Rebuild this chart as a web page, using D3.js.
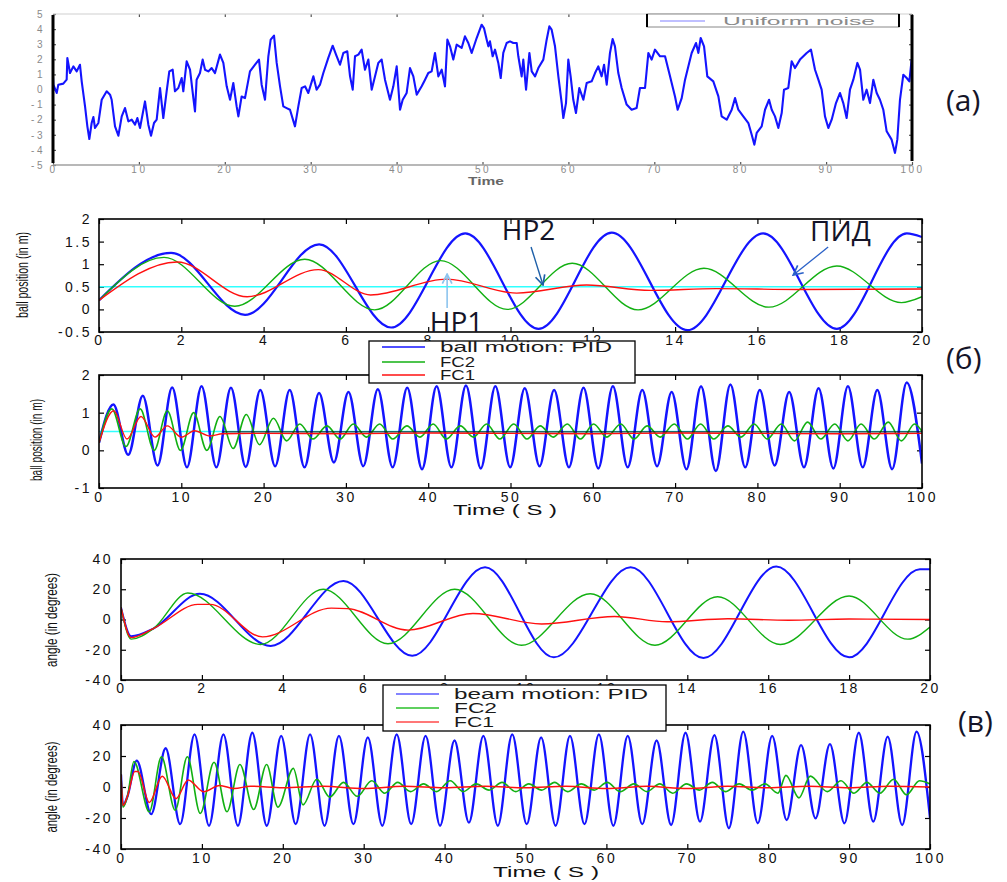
<!DOCTYPE html>
<html>
<head>
<meta charset="utf-8">
<script src="https://cdn.jsdelivr.net/npm/d3@7"></script>
<style>
  body { margin: 0; background: #fff; }
</style>
</head>
<body>
<script>
// ---- (а) uniform noise ----
let noise = [
  [0,0.8],[0.04,0.32],[0.43,-0.23],[0.62,0.32],[1.2,0.39],[1.59,0.65],[1.67,2.09],[1.98,1.09],[2.37,1.53],[2.76,1.2],
  [3.14,1.64],[3.34,0.54],[3.73,-1.12],[4.0,-2.44],[4.23,-3.28],[4.5,-2.22],[4.7,-1.82],[4.89,-2.55],[5.28,-2.22],[5.67,-0.68],
  [6.25,-0.12],[6.64,-0.34],[6.83,-0.68],[7.22,-2.44],[7.61,-3.06],[8.0,-1.78],[8.38,-1.23],[8.77,-2.11],[9.16,-2.0],[9.55,-2.33],
  [9.82,-1.89],[10.13,-2.55],[10.71,-0.79],[11.1,-2.33],[11.41,-3.06],[11.76,-2.22],[12.07,-2.0],[12.46,0.1],[12.84,-1.89],[13.23,-0.12],
  [13.54,1.2],[13.93,1.31],[14.2,-0.12],[14.59,0.1],[14.98,0.76],[15.17,-0.12],[15.56,1.87],[15.95,1.31],[16.34,-0.57],[16.53,-1.45],
  [16.72,0.65],[17.11,1.09],[17.42,1.98],[17.7,1.31],[18.08,1.2],[18.47,1.42],[18.86,1.09],[19.44,2.31],[19.83,1.76],[20.22,0.21],
  [20.61,-0.68],[20.99,0.43],[21.38,-1.12],[21.58,-1.78],[21.96,-0.46],[22.35,-0.57],[22.93,1.2],[23.52,1.64],[23.98,1.98],[24.29,0.32],
  [24.68,-0.68],[25.07,2.2],[25.34,3.3],[25.73,3.57],[26.04,1.76],[26.43,0.21],[26.81,-1.12],[27.2,-1.23],[27.59,-1.34],[28.17,-2.44],
  [28.56,-1.12],[28.95,0.1],[29.34,0.21],[29.72,-0.23],[30.31,0.87],[30.69,-0.01],[31.08,0.32],[31.47,1.09],[32.05,2.09],[32.56,2.9],
  [32.95,2.31],[33.41,1.64],[33.8,2.42],[34.26,2.53],[34.58,0.87],[34.89,-0.01],[35.16,2.2],[35.55,2.31],[35.93,2.64],[36.32,1.31],
  [36.71,1.98],[37.1,-0.01],[37.49,0.87],[37.87,1.76],[38.26,1.98],[38.65,0.65],[39.23,-0.68],[39.62,0.21],[40.01,1.53],[40.4,-1.34],
  [40.71,-0.68],[41.17,-0.23],[41.56,1.42],[41.95,0.87],[42.34,-0.34],[42.92,0.21],[43.31,0.65],[43.69,1.09],[44.08,1.2],[44.47,2.42],
  [44.86,0.87],[45.25,1.31],[45.63,0.21],[45.91,3.3],[46.22,2.86],[46.6,1.98],[46.99,2.97],[47.57,2.75],[47.96,3.52],[48.35,3.08],
  [48.74,2.42],[49.32,3.41],[49.9,4.29],[50.17,4.07],[50.49,3.3],[50.68,2.86],[50.87,3.19],[51.18,2.2],[51.46,2.64],[51.84,1.76],
  [52.12,0.76],[52.42,2.42],[52.81,3.08],[53.2,3.19],[53.59,3.08],[53.98,3.08],[54.17,2.2],[54.56,0.87],[54.75,1.98],[55.07,-0.01],
  [55.46,2.42],[55.73,1.2],[56.12,0.87],[56.5,1.42],[57.08,1.98],[57.47,3.3],[57.78,4.18],[58.05,3.96],[58.44,2.86],[58.83,0.87],
  [59.22,-0.9],[59.41,-1.89],[59.72,-0.9],[59.99,1.98],[60.26,0.87],[60.57,-0.68],[60.88,-1.56],[61.27,0.1],[61.74,-0.68],[62.13,0.43],
  [62.71,0.54],[63.1,1.09],[63.48,1.53],[63.87,0.87],[64.15,1.64],[64.46,0.32],[64.84,2.42],[65.15,3.34],[65.42,2.86],[65.81,1.09],
  [66.2,0.1],[66.78,-1.0],[67.36,-1.34],[67.94,-1.23],[68.33,0.1],[68.92,0.1],[69.31,2.42],[69.69,1.98],[70.08,2.64],[70.67,2.2],
  [71.25,2.2],[71.83,0.87],[72.41,-0.46],[72.72,-1.34],[73.19,-0.57],[73.58,0.65],[73.96,1.53],[74.35,2.42],[74.86,3.08],[75.13,2.42],
  [75.4,3.41],[75.79,2.86],[76.17,0.87],[76.87,0.54],[77.46,-0.46],[77.84,-1.78],[78.43,-2.0],[79.01,-1.34],[79.4,-0.57],[79.78,-1.34],
  [80.36,-1.78],[80.95,-2.22],[81.34,-3.0],[81.65,-3.65],[81.92,-2.88],[82.5,-2.44],[82.89,-1.34],[83.36,-0.68],[83.67,-1.34],[84.05,-1.78],
  [84.44,-2.55],[84.83,-1.56],[85.1,-0.01],[85.6,0.1],[85.99,1.87],[86.38,1.42],[86.96,1.98],[87.74,2.42],[88.24,2.64],[88.71,1.31],
  [89.1,0.65],[89.48,-0.01],[89.87,-1.78],[90.26,-2.55],[90.65,-2.0],[91.15,-0.9],[91.62,-0.23],[92.0,-0.9],[92.39,-1.89],[92.78,-0.01],
  [93.17,0.65],[93.64,1.76],[93.95,1.31],[94.33,-0.68],[94.72,-0.01],[95.11,-0.9],[95.5,0.65],[95.89,-0.23],[96.27,-0.68],[96.66,-1.34],
  [97.05,-2.77],[97.63,-3.32],[98.02,-4.2],[98.29,-3.32],[98.6,-0.68],[98.99,0.98],[99.38,0.76],[99.69,0.54],[99.96,1.98]
]

// ---- (б) ball position, 0..20 s (turning points) ----
let ballPid20 = [[0,0.2],[1.75,1.25],[3.55,-0.12],[5.35,1.44],[7.1,-0.4],[8.9,1.68],[10.68,-0.43],[12.46,1.7],[14.3,-0.46],[16.14,1.68],[17.93,-0.43],[19.63,1.68],[20,1.6]]
let ballFc2_20 = [[0,0.2],[1.58,1.15],[3.3,0.07],[5.0,1.11],[6.7,-0.01],[8.3,1.08],[9.92,0.0],[11.5,1.02],[13.1,-0.01],[14.7,0.91],[16.28,0.05],[17.93,0.96],[19.5,0.15],[20,0.28]]
let ballFc1_20 = [[0,0.2],[1.9,1.05],[3.6,0.28],[5.33,0.88],[6.6,0.32],[8.45,0.67],[10.15,0.36],[11.85,0.54],[13.4,0.42],[15,0.46],[17,0.44],[20,0.45]]
let ballRef = [[0,0.5],[20,0.5]]

// ---- (б) ball position, 0..100 s ----
let ballPid100 = [[0,0.2],[1.75,1.22],[3.55,-0.12],[5.32,1.45],[7.12,-0.4],[8.89,1.67],[10.69,-0.45],[12.46,1.7],[14.26,-0.45],
  [16.03,1.66],[17.83,-0.44],[19.6,1.6],[21.4,-0.42],[23.17,1.6],[24.97,-0.45],[26.74,1.52],[28.54,-0.32],[30.31,1.55],[32.11,-0.42],
  [33.88,1.62],[35.68,-0.45],[37.45,1.66],[39.25,-0.5],[41.02,1.7],[42.82,-0.45],[44.59,1.72],[46.39,-0.48],[48.16,1.7],[49.96,-0.45],
  [51.73,1.65],[53.53,-0.42],[55.3,1.6],[57.1,-0.45],[58.87,1.66],[60.67,-0.48],[62.44,1.7],[64.24,-0.45],[66.01,1.6],[67.81,-0.42],
  [69.58,1.55],[71.38,-0.5],[73.15,1.7],[74.95,-0.55],[76.72,1.75],[78.52,-0.45],[80.29,1.6],[82.09,-0.4],[83.86,1.55],[85.66,-0.45],
  [87.43,1.65],[89.23,-0.48],[91.0,1.7],[92.8,-0.45],[94.57,1.6],[96.37,-0.5],[98.14,1.8],[100,-0.35]]
let ballFc2_100 = [[0,0.2],[1.56,1.1],[3.27,0.1],[5.0,1.1],[6.7,0.0],[8.3,1.05],[9.9,0.0],[11.5,1.0],[13.1,0.0],[14.7,0.9],[16.3,0.05],
  [17.9,0.95],[19.5,0.15],[21.2,0.85],[22.8,0.25],[24.4,0.7],[26.0,0.3],[27.7,0.65],[29.3,0.3],[30.9,0.7],[32.5,0.35],[34.1,0.7],
  [35.7,0.3],[37.4,0.65],[39.0,0.35],[40.6,0.7],[42.2,0.3],[43.9,0.65],[45.5,0.35],[47.1,0.7],[48.7,0.3],[50.4,0.7],[52.0,0.3],
  [53.6,0.65],[55.2,0.35],[56.9,0.7],[58.5,0.3],[60.1,0.7],[61.7,0.35],[63.4,0.7],[65.0,0.3],[66.6,0.65],[68.2,0.35],[69.9,0.7],
  [71.5,0.3],[73.1,0.7],[74.7,0.3],[76.4,0.65],[78.0,0.35],[79.6,0.7],[81.2,0.3],[82.9,0.7],[84.5,0.25],[86.1,0.75],[87.7,0.3],
  [89.4,0.7],[91.0,0.25],[92.6,0.7],[94.2,0.3],[95.9,0.75],[97.5,0.25],[99.1,0.7],[100,0.5]]
let ballFc1_100 = [[0,0.2],[1.8,1.05],[3.4,0.3],[5.1,0.9],[6.8,0.35],[8.3,0.65],[10.0,0.35],[11.6,0.52],[13.5,0.38],[15,0.44],
  [20,0.45],[30,0.44],[40,0.46],[50,0.45],[60,0.44],[70,0.46],[80,0.45],[90,0.44],[100,0.45]]
let ballRef100 = [[0,0.5],[100,0.5]]
let ballBlack100 = [[15,0.49],[100,0.49]]

// ---- (в) beam angle, 0..20 s ----
let beamPid20 = [[0,8],[0.25,-11],[0.8,-6],[1.95,17],[3.7,-17.5],[5.5,25.5],[7.2,-24],[9.0,34.5],[10.7,-25],[12.6,34.5],[14.4,-25.5],[16.2,35],[18.0,-25],[19.75,33.2],[20,33.2]]
let beamFc2_20 = [[0,8],[0.25,-13],[0.8,-6],[1.65,17.5],[3.45,-16.5],[5.0,20],[6.6,-16],[8.25,20],[9.9,-17],[11.6,17],[13.2,-17],[14.75,15],[16.3,-16.5],[18.0,15.5],[19.45,-13],[20,-5]]
let beamFc1_20 = [[0,8],[0.25,-12],[0.8,-6],[1.9,10],[2.2,10],[3.5,-11.5],[5.2,7.5],[5.6,7.2],[7.1,-7],[8.7,4],[10.4,-3],[12.2,2],[13.5,-1.5],[15,0.5],[16.5,-0.5],[18,0.3],[20,0]]

// ---- (в) beam angle, 0..100 s ----
let beamPid100 = [[0,8],[0.25,-12],[0.8,-6],[1.95,17],[3.74,-17.5],[5.52,25],[7.31,-24],[9.09,34],[10.88,-25],[12.66,34],[14.45,-25],
  [16.23,35],[18.02,-25],[19.8,33],[21.59,-24],[23.37,34],[25.16,-25],[26.94,33],[28.73,-24],[30.51,32],[32.3,-25],[34.08,34],
  [35.87,-24],[37.65,33],[39.44,-25],[41.22,30],[43.01,-23],[44.79,33],[46.58,-25],[48.36,34],[50.15,-24],[51.93,32],[53.72,-25],
  [55.5,33],[57.29,-24],[59.07,34],[60.86,-25],[62.64,33],[64.43,-24],[66.21,30],[68.0,-24.5],[69.78,35],[71.57,-22.4],[73.35,33.5],
  [75.14,-26.6],[76.92,35.7],[78.71,-23.4],[80.49,33],[82.28,-21.3],[84.06,27],[85.85,-20.2],[87.63,27.7],[89.42,-23.4],[91.2,35],
  [92.99,-22.4],[94.77,32.5],[96.56,-24.5],[98.34,35.7],[100,-20]]
let beamFc2_100 = [[0,8],[0.25,-13],[0.8,-6],[1.6,16.5],[3.5,-16],[5.0,19.5],[6.7,-15],[8.2,19.5],[9.8,-17],[11.5,16],[13.1,-16],
  [14.7,14.5],[16.4,-14.5],[18.0,14.5],[19.4,-13],[21.3,12],[22.5,-11.5],[24.2,5],[25.8,-6.5],[27.5,3],[29.2,-6],[31,4],[32.6,-4],
  [34.2,3],[35.8,-3],[37.4,2],[39,-3],[40.7,4],[42.3,-3],[43.9,2],[45.5,-2],[47.1,3],[48.8,-3],[50.4,2],[52,-2],[53.6,3],
  [55.2,-3],[56.9,2],[58.5,-2],[60.1,3],[61.7,-3],[63.4,2],[65,-3],[66.6,2],[68.2,-4],[69.9,2],[71.5,-2],[73.1,3],[74.7,-3],
  [76.4,2],[78,-2],[79.6,2],[81.2,-4],[82.2,7.5],[83.8,-7],[85.2,7],[87.3,-3],[89,4],[90.6,-4],[92.2,3],[93.8,-4],[95.5,5],
  [97.1,-5],[98.7,4],[100,2]]
let beamFc1_100 = [[0,8],[0.25,-12],[0.8,-6],[1.7,10],[2.1,10],[3.5,-10],[5.1,7],[6.8,-7.5],[8.3,4.5],[10.2,-3],[12.2,1],[14,-1],
  [16,0.5],[20,-0.5],[25,0.5],[30,-1],[35,0.5],[40,-0.5],[45,0.5],[50,-0.5],[55,0.5],[60,-1],[65,0.5],[70,-1],[75,0.5],
  [80,-0.5],[85,0.5],[90,-0.5],[95,0.5],[100,0]]

// ticks and labels
let ticks0to100 = [0,10,20,30,40,50,60,70,80,90,100]
let ticks0to20 = [0,2,4,6,8,10,12,14,16,18,20]
let noiseTicksY = [-5,-4,-3,-2,-1,0,1,2,3,4,5]
let ballTicks20 = [-0.5,0,0.5,1,1.5,2]
let ballTicks100 = [-1,0,1,2]
let angleTicks = [-40,-20,0,20,40]
let ballLegend = ['ball motion: PID','FC2','FC1']
let beamLegend = ['beam motion: PID','FC2','FC1']

const BLUE = '#1414ff', GREEN = '#12b012', RED = '#ff1010', CYAN = '#30ffff'

let svg = d3.select('body').append('svg')
    .attr('width', 1007).attr('height', 882)
    .style('background', '#fff')

let defs = svg.append('defs')
let clipCount = 0

// one MATLAB-style box with inward ticks
function panel(p) {
  let w = p.right - p.left, h = p.bottom - p.top
  let g = svg.append('g').attr('transform', 'translate(' + p.left + ',' + p.top + ')')
  let x = d3.scaleLinear().domain(p.xDomain).range([0, w])
  let y = d3.scaleLinear().domain(p.yDomain).range([h, 0])
  let id = 'clip' + (clipCount++)
  defs.append('clipPath').attr('id', id).append('rect').attr('width', w).attr('height', h)

  let styleText = sel => {
    sel.select('.domain').remove()
    sel.selectAll('line').attr('stroke', p.tickColor || '#000').attr('stroke-width', 1.2)
    sel.selectAll('text')
      .attr('font-family', 'Liberation Sans, Arial, sans-serif')
      .attr('font-size', p.fontSize).attr('fill', p.textColor || '#111')
      .attr('letter-spacing', p.ls)
  }
  let fmt = d => String(d)
  g.append('g').attr('transform', 'translate(0,' + h + ')')
    .call(d3.axisBottom(x).tickValues(p.xTicks).tickSize(-p.tick).tickPadding(p.xPad).tickFormat(fmt))
    .call(styleText)
  g.append('g')
    .call(d3.axisTop(x).tickValues(p.xTicks).tickSize(-p.tick).tickFormat(''))
    .call(styleText)
  g.append('g')
    .call(d3.axisLeft(y).tickValues(p.yTicks).tickSize(-p.tick).tickPadding(p.yPad).tickFormat(fmt))
    .call(styleText)
  g.append('g').attr('transform', 'translate(' + w + ',0)')
    .call(d3.axisRight(y).tickValues(p.yTicks).tickSize(-p.tick).tickFormat(''))
    .call(styleText)

  let plot = g.append('g').attr('clip-path', 'url(#' + id + ')')
  return { g: g, x: x, y: y, w: w, h: h, plot: plot }
}

function frame(pn, width) {
  pn.g.append('rect').attr('width', pn.w).attr('height', pn.h)
    .attr('fill', 'none').attr('stroke', '#000').attr('stroke-width', width)
}

function addLine(pn, data, color, width, curve) {
  let line = d3.line().x(d => pn.x(d[0])).y(d => pn.y(d[1])).curve(curve || d3.curveMonotoneX)
  pn.plot.append('path').datum(data)
    .attr('d', line).attr('fill', 'none')
    .attr('stroke', color).attr('stroke-width', width)
    .attr('stroke-linejoin', 'round')
}

function yLabel(cx, cy, txt, len) {
  svg.append('text')
    .attr('transform', 'translate(' + cx + ',' + cy + ') rotate(-90)')
    .attr('text-anchor', 'middle')
    .attr('font-family', 'Liberation Sans, Arial, sans-serif')
    .attr('font-size', 17).attr('fill', '#111')
    .attr('textLength', len).attr('lengthAdjust', 'spacingAndGlyphs')
    .text(txt)
}

function legend(bx, by, bw, bh, labels, colors, rows, lens) {
  let g = svg.append('g')
  g.append('rect').attr('x', bx).attr('y', by).attr('width', bw).attr('height', bh)
    .attr('fill', '#fff').attr('stroke', '#000').attr('stroke-width', 1.3)
  labels.forEach((lab, i) => {
    g.append('line').attr('x1', bx + 13).attr('x2', bx + 56)
      .attr('y1', rows[i]).attr('y2', rows[i])
      .attr('stroke', colors[i]).attr('stroke-width', 1.5)
    g.append('text').attr('x', bx + 71).attr('y', rows[i] + 5)
      .attr('font-family', 'Liberation Sans, Arial, sans-serif')
      .attr('font-size', 14).attr('fill', '#1a1a1a')
      .attr('textLength', lens[i]).attr('lengthAdjust', 'spacingAndGlyphs')
      .text(lab)
  })
}

function bigLabel(x, y, txt, size) {
  svg.append('text').attr('x', x).attr('y', y)
    .attr('font-family', 'Open Sans, Noto Sans, sans-serif')
    .attr('font-size', size).attr('fill', '#141428')
    .text(txt)
}

// arrow head marker
function marker(id, color) {
  defs.append('marker').attr('id', id)
    .attr('viewBox', '0 0 10 10').attr('refX', 9).attr('refY', 5)
    .attr('markerWidth', 12).attr('markerHeight', 12).attr('markerUnits', 'userSpaceOnUse')
    .attr('orient', 'auto')
    .append('path').attr('d', 'M1,1 L9,5 L1,9').attr('fill', 'none')
    .attr('stroke', color).attr('stroke-width', 1.4)
}
marker('arDark', '#1d5fa8')
marker('arLight', '#8cc4ee')
marker('arBlue', '#2b62c8')

// ---------------- (а) ----------------
let pa = panel({ left: 53, top: 14, right: 912, bottom: 165, xDomain: [0, 100], yDomain: [-5, 5],
  xTicks: ticks0to100, yTicks: noiseTicksY, tick: 3, xPad: 1, yPad: 8,
  fontSize: 10, ls: 2.5, textColor: '#8a8a8a', tickColor: '#555' })
addLine(pa, noise, BLUE, 2.1, d3.curveLinear)
pa.g.append('line').attr('x1', 0).attr('x2', pa.w).attr('y1', 0).attr('y2', 0).attr('stroke', '#cfcfcf').attr('stroke-width', 1.2)
pa.g.append('line').attr('x1', 0).attr('x2', pa.w).attr('y1', pa.h).attr('y2', pa.h).attr('stroke', '#a0a0a0').attr('stroke-width', 1.5)
pa.g.append('line').attr('x1', 0).attr('x2', 0).attr('y1', 1).attr('y2', pa.h - 2).attr('stroke', '#000').attr('stroke-width', 3)
pa.g.append('line').attr('x1', pa.w).attr('x2', pa.w).attr('y1', 1).attr('y2', pa.h - 4).attr('stroke', '#000').attr('stroke-width', 3)
// legend of (а)
let la = svg.append('g')
la.append('rect').attr('x', 647).attr('y', 14).attr('width', 252).attr('height', 13)
  .attr('fill', '#fff').attr('stroke', '#888').attr('stroke-width', 1)
la.append('line').attr('x1', 647).attr('x2', 647).attr('y1', 14).attr('y2', 27).attr('stroke', '#000').attr('stroke-width', 2)
la.append('line').attr('x1', 899).attr('x2', 899).attr('y1', 14).attr('y2', 27).attr('stroke', '#000').attr('stroke-width', 2)
la.append('line').attr('x1', 660).attr('x2', 705).attr('y1', 21).attr('y2', 21).attr('stroke', '#8080ff').attr('stroke-width', 1.2)
la.append('text').attr('x', 723).attr('y', 25)
  .attr('font-family', 'Liberation Sans, Arial, sans-serif').attr('font-size', 11).attr('fill', '#8a8a8a')
  .attr('textLength', 152).attr('lengthAdjust', 'spacingAndGlyphs').text('Uniform noise')
svg.append('text').attr('x', 486).attr('y', 185).attr('text-anchor', 'middle')
  .attr('font-family', 'Liberation Sans, Arial, sans-serif').attr('font-size', 10).attr('font-weight', 'bold')
  .attr('fill', '#666').attr('textLength', 36).attr('lengthAdjust', 'spacingAndGlyphs').text('Time')

// ---------------- (б) top ----------------
let pb1 = panel({ left: 99, top: 219, right: 922, bottom: 332, xDomain: [0, 20], yDomain: [-0.5, 2],
  xTicks: ticks0to20, yTicks: ballTicks20, tick: 5, xPad: 3, yPad: 7, fontSize: 14, ls: 2.5 })
addLine(pb1, ballRef, CYAN, 1.6)
addLine(pb1, ballPid20, BLUE, 2.2)
addLine(pb1, ballFc2_20, GREEN, 1.4)
addLine(pb1, ballFc1_20, RED, 1.4)
frame(pb1, 1.6)
yLabel(28, 275, 'ball position (in m)', 86)

// annotations on (б) top, placed in data units
bigLabel(pb1.x(9.79) + 99, pb1.y(1.54) + 219, 'НР2', 28)
bigLabel(pb1.x(8.04) + 99, pb1.y(-0.5) + 219, 'НР1', 28)
bigLabel(pb1.x(17.28) + 99, pb1.y(1.51) + 219, 'ПИД', 28)
pb1.g.append('line').attr('x1', pb1.x(10.5)).attr('y1', pb1.y(1.38)).attr('x2', pb1.x(10.79)).attr('y2', pb1.y(0.54))
  .attr('stroke', '#1d5fa8').attr('stroke-width', 1.4).attr('marker-end', 'url(#arDark)')
pb1.g.append('line').attr('x1', pb1.x(8.46)).attr('y1', pb1.y(0.03)).attr('x2', pb1.x(8.46)).attr('y2', pb1.y(0.78))
  .attr('stroke', '#8cc4ee').attr('stroke-width', 1.6).attr('marker-end', 'url(#arLight)')
pb1.g.append('line').attr('x1', pb1.x(17.72)).attr('y1', pb1.y(1.38)).attr('x2', pb1.x(16.87)).attr('y2', pb1.y(0.76))
  .attr('stroke', '#2b62c8').attr('stroke-width', 1.3).attr('marker-end', 'url(#arBlue)')

// ---------------- (б) bottom ----------------
let pb2 = panel({ left: 99, top: 375, right: 922, bottom: 488, xDomain: [0, 100], yDomain: [-1, 2],
  xTicks: ticks0to100, yTicks: ballTicks100, tick: 5, xPad: 4, yPad: 7, fontSize: 14, ls: 2.5 })
addLine(pb2, ballRef100, CYAN, 1.4)
addLine(pb2, ballPid100, BLUE, 2.5)
addLine(pb2, ballFc2_100, GREEN, 1.6)
addLine(pb2, ballBlack100, '#111', 1)
addLine(pb2, ballFc1_100, RED, 1.4)
frame(pb2, 1.6)
yLabel(42, 440, 'ball position (in m)', 82)
svg.append('text').attr('x', 505).attr('y', 515).attr('text-anchor', 'middle')
  .attr('font-family', 'Liberation Sans, Arial, sans-serif').attr('font-size', 14).attr('fill', '#111')
  .attr('textLength', 104).attr('lengthAdjust', 'spacingAndGlyphs').text('Time ( S )')

legend(369, 341, 266, 42, ballLegend, [BLUE, GREEN, RED], [347, 362, 375], [172, 35, 35])

// ---------------- (в) top ----------------
let pc1 = panel({ left: 121, top: 559, right: 930, bottom: 680, xDomain: [0, 20], yDomain: [-40, 40],
  xTicks: ticks0to20, yTicks: angleTicks, tick: 5, xPad: 3, yPad: 8, fontSize: 14, ls: 2.5 })
addLine(pc1, beamPid20, BLUE, 2)
addLine(pc1, beamFc2_20, GREEN, 1.4)
addLine(pc1, beamFc1_20, RED, 1.4)
frame(pc1, 1.6)
yLabel(57, 620, 'angle (in degrees)', 94)

// ---------------- (в) bottom ----------------
let pc2 = panel({ left: 121, top: 725, right: 930, bottom: 849, xDomain: [0, 100], yDomain: [-40, 40],
  xTicks: ticks0to100, yTicks: angleTicks, tick: 5, xPad: 4, yPad: 8, fontSize: 14, ls: 2.5 })
addLine(pc2, beamPid100, BLUE, 2.3)
addLine(pc2, beamFc2_100, GREEN, 1.6)
addLine(pc2, beamFc1_100, RED, 1.5)
frame(pc2, 1.6)
yLabel(57, 787, 'angle (in degrees)', 91)
svg.append('text').attr('x', 546).attr('y', 877).attr('text-anchor', 'middle')
  .attr('font-family', 'Liberation Sans, Arial, sans-serif').attr('font-size', 14).attr('fill', '#111')
  .attr('textLength', 106).attr('lengthAdjust', 'spacingAndGlyphs').text('Time ( S )')

legend(383, 685, 283, 46, beamLegend, ['#5a5aff', '#2ac02a', '#ff4a4a'], [694, 708, 722], [194, 43, 40])

// panel letters
bigLabel(946, 111, '(а)', 30)
bigLabel(946, 369, '(б)', 30)
bigLabel(958, 732, '(в)', 30)
</script>
</body>
</html>
